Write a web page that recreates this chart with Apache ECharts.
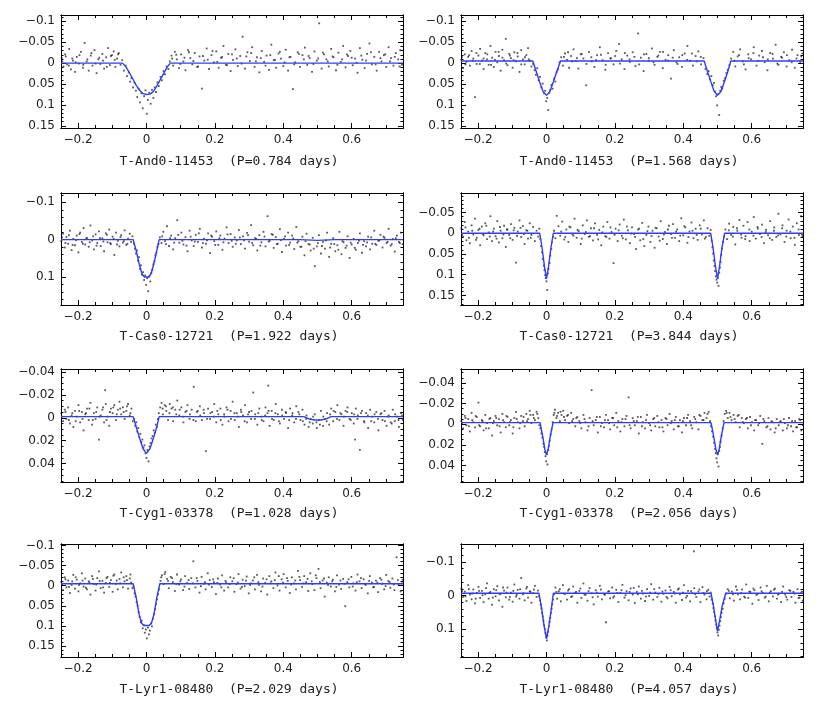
<!DOCTYPE html>
<html>
<head>
<meta charset="utf-8">
<script src="https://cdn.jsdelivr.net/npm/echarts@6/dist/echarts.min.js"></script>
<style>html,body{margin:0;background:#fff}#chart{width:830px;height:724px}</style>
</head>
<body>
<div id="chart"></div>
<script>
// panel captions, left to right, top to bottom
const titles = [
  'T-And0-11453  (P=0.784 days)', 'T-And0-11453  (P=1.568 days)',
  'T-Cas0-12721  (P=1.922 days)', 'T-Cas0-12721  (P=3.844 days)',
  'T-Cyg1-03378  (P=1.028 days)', 'T-Cyg1-03378  (P=2.056 days)',
  'T-Lyr1-08480  (P=2.029 days)', 'T-Lyr1-08480  (P=4.057 days)'
];
const phaseRange = [-0.25, 0.75];
const xMajor = [-0.2, 0, 0.2, 0.4, 0.6];
// magnitude ranges (inverted axes) and tick labels
const yRanges = [[-0.115,0.155],[-0.115,0.155],[-0.125,0.175],[-0.097,0.173],[-0.0425,0.056],[-0.0535,0.056],[-0.104,0.1775],[-0.153,0.182]];
const yMajors = [
  [-0.1,-0.05,0,0.05,0.1,0.15],[-0.1,-0.05,0,0.05,0.1,0.15],
  [-0.1,0,0.1],[-0.05,0,0.05,0.1,0.15],
  [-0.04,-0.02,0,0.02,0.04],[-0.04,-0.02,0,0.02,0.04],
  [-0.1,-0.05,0,0.05,0.1,0.15],[-0.1,0,0.1]
];
const yMinorStep = [0.01,0.01,0.02,0.01,0.005,0.005,0.01,0.02];

// fitted models (phase, delta mag)
const model1 = [[-.25,0],[-.07,0],[-.06,.009],[-.05,.023],[-.04,.038],[-.03,.053],[-.02,.065],[-.01,.073],[0,.075],[.01,.074],[.02,.068],[.03,.055],[.04,.04],[.05,.025],[.06,.01],[.07,0],[.75,0]];
const model2 = [[-.25,-.005],[-.04,-.005],[-.03,.02],[-.02,.045],[-.01,.068],[0,.077],[.01,.068],[.02,.045],[.03,.02],[.041,-.005],[.461,-.005],[.47,.018],[.48,.043],[.49,.067],[.5,.077],[.51,.068],[.52,.045],[.53,.02],[.539,-.005],[.75,-.005]];
const model3 = [[-.25,0],[-.039,0],[-.03,.03],[-.02,.07],[-.013,.092],[-.006,.1],[.006,.1],[.013,.092],[.02,.07],[.03,.03],[.037,0],[.45,0],[.5,.002],[.55,0],[.75,0]];
const model4 = [[-.25,0],[-.02,0],[-.013,.035],[-.006,.08],[0,.11],[.006,.08],[.013,.035],[.02,0],[.48,0],[.487,.035],[.494,.08],[.5,.11],[.506,.08],[.513,.035],[.521,0],[.75,0]];
const model5 = [[-.25,-.001],[-.039,-.001],[-.03,.008],[-.02,.018],[-.01,.027],[0,.031],[.01,.027],[.02,.018],[.03,.008],[.037,-.001],[.46,-.001],[.475,.001],[.49,.002],[.51,.002],[.525,.001],[.54,-.001],[.75,-.001]];
const model6 = [[-.25,-.0015],[-.019,-.0015],[-.012,.01],[-.005,.024],[0,.03],[.005,.024],[.012,.01],[.019,-.0015],[.481,-.0015],[.488,.01],[.495,.024],[.5,.03],[.505,.024],[.512,.01],[.519,-.0015],[.75,-.0015]];
const model7 = [[-.25,-.005],[-.039,-.005],[-.03,.03],[-.022,.07],[-.015,.092],[-.008,.099],[.008,.099],[.015,.092],[.022,.07],[.03,.03],[.039,-.005],[.75,-.005]];
const model8 = [[-.25,-.007],[-.022,-.007],[-.014,.04],[-.007,.09],[0,.128],[.007,.09],[.014,.04],[.02,-.007],[.481,-.007],[.488,.03],[.495,.075],[.5,.105],[.506,.075],[.514,.03],[.524,-.007],[.75,-.007]];

// photometry points (phase, delta mag)
const points1 = [[-.248,-.012],[-.243,.008],[-.238,-.021],[-.232,.003],[-.226,-.034],[-.221,.015],[-.215,-.006],[-.209,.021],[-.204,-.015],[-.198,.001],[-.192,-.027],[-.186,.011],[-.181,-.048],[-.175,-.004],[-.169,.018],[-.163,-.018],[-.158,.006],[-.152,-.031],[-.146,.024],[-.141,-.009],[-.135,.002],[-.129,-.022],[-.124,.013],[-.118,-.014],[-.112,-.036],[-.107,.005],[-.101,-.019],[-.096,-.028],[-.091,.009],[-.086,-.011],[-.081,-.024],[-.076,.004],[-.071,-.007],[-.066,.018],[-.061,.006],[-.057,.031],[-.052,.022],[-.048,.044],[-.044,.036],[-.039,.058],[-.035,.047],[-.031,.066],[-.027,.081],[-.023,.061],[-.019,.094],[-.015,.072],[-.011,.108],[-.007,.079],[-.003,.065],[.001,.121],[.004,.088],[.008,.071],[.012,.097],[.016,.064],[.02,.083],[.024,.058],[.028,.069],[.032,.046],[.036,.055],[.041,.033],[.045,.041],[.05,.019],[.054,.027],[.059,.008],[.064,.014],[.068,-.004],[.073,-.018],[.078,.006],[.083,-.027],[.089,-.009],[.095,.012],[.101,-.021],[.108,-.004],[.114,.017],[.121,-.031],[.128,-.012],[.134,.003],[.141,-.024],[.148,.009],[.155,-.016],[.162,.061],[.169,-.006],[.176,-.035],[.183,.014],[.19,-.019],[.197,-.002],[.204,-.028],[.211,.011],[.218,-.013],[.225,-.041],[.232,.004],[.239,-.022],[.246,.019],[.253,-.008],[.26,-.033],[.267,.007],[.274,-.017],[.281,-.063],[.288,.013],[.295,-.026],[.302,-.005],[.309,-.038],[.316,.009],[.323,-.014],[.33,.022],[.337,-.029],[.344,-.003],[.351,-.018],[.358,.016],[.365,-.044],[.372,-.007],[.379,.011],[.386,-.023],[.393,-.011],[.4,.007],[.407,-.032],[.414,.018],[.421,-.015],[.428,.062],[.435,-.002],[.442,-.026],[.449,.009],[.456,-.019],[.463,-.037],[.47,.004],[.477,-.012],[.484,.021],[.491,-.028],[.498,-.006],[.505,-.095],[.512,.013],[.519,-.021],[.526,-.009],[.533,.008],[.54,-.034],[.547,-.014],[.554,.017],[.561,-.025],[.568,-.003],[.575,-.041],[.582,.01],[.589,-.017],[.596,-.029],[.603,.005],[.61,-.011],[.617,.023],[.624,-.036],[.631,-.008],[.638,.012],[.645,-.022],[.652,-.047],[.659,.003],[.666,-.015],[.673,.018],[.68,-.027],[.687,-.004],[.694,-.019],[.701,.009],[.708,-.038],[.715,-.012],[.722,.006],[.729,-.024],[.736,-.009],[.742,-.031],[.747,.004]];
const points1b = [[-.246,-.004],[-.236,-.016],[-.227,.006],[-.217,-.011],[-.207,-.002],[-.196,-.019],[-.185,.004],[-.173,-.009],[-.161,-.024],[-.149,.001],[-.138,-.013],[-.127,-.006],[-.116,.009],[-.104,-.017],[-.093,-.008],[-.083,-.021],[.075,-.011],[.087,-.02],[.099,.002],[.111,-.013],[.124,-.026],[.137,-.005],[.151,.008],[.165,-.017],[.179,-.008],[.193,-.029],[.207,-.003],[.221,-.014],[.236,.005],[.25,-.021],[.264,-.011],[.278,.001],[.292,-.016],[.306,-.024],[.32,-.004],[.334,-.012],[.348,.006],[.362,-.019],[.376,-.008],[.39,-.027],[.404,-.002],[.418,-.014],[.432,.003],[.446,-.022],[.46,-.009],[.474,-.017],[.488,.002],[.502,-.011],[.516,-.025],[.53,-.004],[.544,-.016],[.558,.004],[.572,-.009],[.586,-.021],[.6,-.013],[.614,-.001],[.628,-.018],[.642,-.006],[.656,-.026],[.67,.003],[.684,-.012],[.698,-.021],[.712,-.004],[.726,-.015],[.74,.008]];
const points2 = [[-.249,-.008],[-.244,.012],[-.239,-.021],[-.234,-.003],[-.229,-.015],[-.224,.006],[-.219,-.029],[-.214,-.011],[-.209,.081],[-.204,.002],[-.199,-.018],[-.194,-.034],[-.189,-.006],[-.184,.014],[-.179,-.024],[-.174,-.009],[-.169,.004],[-.164,-.041],[-.159,-.013],[-.154,.009],[-.149,-.027],[-.144,-.002],[-.139,-.017],[-.134,.018],[-.129,-.032],[-.124,-.007],[-.119,-.058],[-.114,.005],[-.109,-.022],[-.104,-.012],[-.099,.011],[-.094,-.026],[-.089,-.004],[-.084,-.016],[-.079,.021],[-.074,-.031],[-.069,-.009],[-.064,.003],[-.059,-.019],[-.054,-.036],[-.049,-.006],[-.044,.008],[-.039,.002],[-.035,.017],[-.031,.028],[-.027,.012],[-.023,.041],[-.019,.033],[-.015,.058],[-.011,.049],[-.007,.072],[-.004,.066],[-.001,.091],[.002,.083],[.005,.112],[.008,.071],[.011,.064],[.014,.052],[.018,.061],[.022,.037],[.026,.044],[.03,.021],[.034,.015],[.038,-.002],[.043,-.014],[.048,.006],[.054,-.023],[.06,-.008],[.066,.011],[.072,-.017],[.079,-.033],[.086,-.005],[.093,.013],[.1,-.021],[.108,-.011],[.116,.053],[.124,-.027],[.132,-.004],[.14,.009],[.148,-.019],[.156,-.038],[.164,-.007],[.172,.016],[.18,-.024],[.188,-.012],[.196,.003],[.204,-.029],[.212,-.046],[.22,-.009],[.228,.014],[.236,-.018],[.244,-.003],[.252,-.026],[.26,.007],[.268,-.071],[.276,-.013],[.284,.019],[.292,-.022],[.3,-.006],[.308,-.035],[.316,.004],[.324,-.015],[.332,-.027],[.34,.012],[.348,-.008],[.356,-.019],[.364,.037],[.372,-.031],[.38,-.002],[.388,-.014],[.396,.009],[.404,-.023],[.412,-.041],[.42,-.006],[.428,.006],[.436,-.017],[.444,-.028],[.452,.003],[.459,-.012],[.465,.014],[.47,.026],[.474,.019],[.478,.039],[.482,.031],[.486,.052],[.49,.047],[.493,.068],[.496,.079],[.499,.101],[.502,.074],[.505,.124],[.508,.066],[.511,.057],[.514,.061],[.518,.042],[.522,.036],[.526,.024],[.53,.016],[.535,.004],[.54,-.011],[.546,-.027],[.552,.008],[.559,-.016],[.566,-.033],[.574,-.004],[.582,.015],[.59,-.021],[.598,-.009],[.606,-.038],[.614,.006],[.622,-.018],[.63,-.029],[.638,-.002],[.646,.017],[.654,-.024],[.662,-.011],[.67,-.044],[.678,.004],[.686,-.015],[.694,-.026],[.702,.008],[.71,-.007],[.718,-.032],[.726,.011],[.734,-.019],[.742,-.003],[.748,-.023]];
const points2b = [[-.247,-.014],[-.237,.003],[-.226,-.019],[-.216,-.006],[-.205,-.024],[-.195,.002],[-.184,-.011],[-.173,-.021],[-.162,.004],[-.151,-.008],[-.14,-.027],[-.129,-.013],[-.118,.001],[-.107,-.018],[-.096,-.007],[-.085,-.024],[-.074,.003],[-.063,-.014],[-.052,-.009],[.051,-.015],[.063,-.026],[.075,-.004],[.089,-.012],[.103,-.022],[.117,.002],[.131,-.014],[.145,-.007],[.159,-.02],[.173,.004],[.187,-.011],[.201,-.017],[.215,.001],[.229,-.024],[.243,-.009],[.257,-.015],[.271,.003],[.285,-.021],[.299,-.012],[.313,-.002],[.327,-.018],[.341,-.027],[.355,-.006],[.369,-.013],[.383,.002],[.397,-.019],[.411,-.008],[.425,-.023],[.439,-.004],[.451,-.015],[.549,-.006],[.563,-.019],[.577,.003],[.591,-.012],[.605,-.024],[.619,-.005],[.633,-.014],[.647,-.009],[.661,-.022],[.675,.001],[.689,-.013],[.703,-.019],[.717,-.002],[.731,-.011],[.745,-.016]];
const points3 = [[-.249,.004],[-.244,-.016],[-.239,.021],[-.234,-.007],[-.229,.011],[-.224,-.024],[-.219,.028],[-.214,-.002],[-.209,.015],[-.204,-.011],[-.199,.034],[-.194,-.019],[-.189,.006],[-.184,-.031],[-.179,.013],[-.174,-.005],[-.169,.019],[-.164,-.038],[-.159,.002],[-.154,.026],[-.149,-.014],[-.144,.009],[-.139,-.022],[-.134,.017],[-.129,-.004],[-.124,.031],[-.119,-.017],[-.114,.007],[-.109,-.027],[-.104,.012],[-.099,-.008],[-.094,.041],[-.089,-.019],[-.084,.003],[-.079,.018],[-.074,-.012],[-.069,.008],[-.064,-.025],[-.059,.014],[-.054,-.003],[-.049,-.016],[-.045,.006],[-.041,-.009],[-.037,.011],[-.034,.024],[-.031,.037],[-.028,.029],[-.025,.056],[-.022,.047],[-.019,.078],[-.016,.069],[-.013,.094],[-.01,.087],[-.007,.108],[-.004,.096],[-.001,.121],[.002,.103],[.005,.138],[.008,.099],[.011,.112],[.014,.089],[.017,.081],[.02,.066],[.023,.058],[.026,.042],[.029,.035],[.032,.019],[.035,.012],[.039,-.006],[.044,.009],[.049,-.021],[.054,.004],[.06,-.036],[.066,.017],[.072,-.011],[.078,.026],[.084,-.004],[.09,-.052],[.096,.008],[.102,-.019],[.108,.013],[.114,-.007],[.12,.031],[.126,-.024],[.132,.002],[.138,.017],[.144,-.013],[.15,.006],[.156,-.029],[.162,.021],[.168,-.003],[.174,.011],[.18,-.017],[.186,.036],[.192,-.008],[.198,.004],[.204,-.022],[.21,.014],[.216,-.011],[.222,.027],[.228,-.003],[.234,-.033],[.24,.009],[.246,-.015],[.252,.019],[.258,-.006],[.264,.002],[.27,-.026],[.276,.012],[.282,-.009],[.288,.024],[.294,-.018],[.3,.005],[.306,-.039],[.312,.015],[.318,-.004],[.324,.029],[.33,-.012],[.336,.007],[.342,-.021],[.348,.018],[.354,-.063],[.36,.003],[.366,-.015],[.372,.022],[.378,-.007],[.384,.011],[.39,-.028],[.396,.033],[.402,-.002],[.408,.016],[.414,-.019],[.42,.008],[.426,-.011],[.432,.025],[.438,-.034],[.444,.004],[.45,.019],[.456,-.008],[.462,.042],[.468,-.016],[.474,.012],[.48,.029],[.486,-.005],[.492,.071],[.498,.018],[.504,-.012],[.51,.037],[.516,.006],[.522,.024],[.528,-.019],[.534,.046],[.54,.011],[.546,-.004],[.552,.031],[.558,.015],[.564,-.021],[.57,.039],[.576,.007],[.582,.022],[.588,-.009],[.594,.049],[.6,.013],[.606,-.002],[.612,.027],[.618,.009],[.624,-.017],[.63,.035],[.636,.004],[.642,.018],[.648,-.008],[.654,.026],[.66,.011],[.666,-.024],[.672,.014],[.678,.003],[.684,-.013],[.69,.021],[.696,-.005],[.702,.009],[.708,-.029],[.714,.016],[.72,-.002],[.726,.032],[.732,-.011],[.738,.006],[.744,-.019],[.749,.012]];
const points3b = [[-.247,-.006],[-.237,.009],[-.227,-.012],[-.216,.014],[-.206,.001],[-.196,-.015],[-.186,.011],[-.176,-.003],[-.166,.007],[-.156,-.009],[-.146,.016],[-.136,-.004],[-.126,.005],[-.116,-.013],[-.106,.009],[-.096,-.002],[-.086,.013],[-.076,-.007],[-.066,.004],[-.056,.011],[.046,-.009],[.057,.012],[.069,-.004],[.081,.008],[.093,-.013],[.105,.003],[.117,.016],[.129,-.008],[.141,.005],[.153,-.017],[.165,.009],[.177,.002],[.189,-.011],[.201,.014],[.213,-.004],[.225,.007],[.237,-.014],[.249,.003],[.261,.011],[.273,-.006],[.285,.002],[.297,-.012],[.309,.009],[.321,-.002],[.333,.016],[.345,-.008],[.357,.005],[.369,-.013],[.381,.012],[.393,.001],[.405,-.009],[.417,.014],[.429,-.003],[.441,.008],[.453,.019],[.465,.004],[.477,.013],[.489,.024],[.501,.009],[.513,.017],[.525,.002],[.537,.021],[.549,.012],[.561,.027],[.573,.004],[.585,.016],[.597,.008],[.609,.022],[.621,.003],[.633,.014],[.645,.007],[.657,-.006],[.669,.011],[.681,.002],[.693,-.008],[.705,.006],[.717,.012],[.729,-.004],[.741,.009]];
const points4 = [[-.249,-.012],[-.244,.008],[-.239,-.027],[-.234,.017],[-.229,-.004],[-.224,.024],[-.219,-.019],[-.214,.003],[-.209,-.035],[-.204,.011],[-.199,-.008],[-.194,.029],[-.189,-.016],[-.184,.005],[-.179,-.024],[-.174,.014],[-.169,-.002],[-.164,-.041],[-.159,.019],[-.154,-.011],[-.149,.007],[-.144,-.029],[-.139,.022],[-.134,-.006],[-.129,.012],[-.124,-.018],[-.119,.033],[-.114,-.009],[-.109,.004],[-.104,-.022],[-.099,.016],[-.094,-.013],[-.089,.071],[-.084,-.004],[-.079,-.031],[-.074,.009],[-.069,-.017],[-.064,.026],[-.059,-.007],[-.054,.013],[-.049,-.024],[-.044,.004],[-.039,-.015],[-.034,.019],[-.029,-.006],[-.024,.008],[-.021,-.011],[-.018,.014],[-.016,.031],[-.013,.046],[-.011,.062],[-.008,.078],[-.006,.089],[-.004,.101],[-.002,.108],[0,.116],[.002,.137],[.004,.097],[.006,.086],[.009,.072],[.011,.054],[.014,.038],[.016,.022],[.019,.009],[.022,-.006],[.026,.012],[.03,-.042],[.035,-.017],[.04,.006],[.046,-.028],[.052,.015],[.058,-.009],[.064,.021],[.07,-.014],[.076,.003],[.082,-.035],[.088,.011],[.094,-.005],[.1,.026],[.106,-.019],[.112,.002],[.118,-.031],[.124,.009],[.13,-.012],[.136,.017],[.142,-.024],[.148,.004],[.154,-.008],[.16,.029],[.166,-.016],[.172,.007],[.178,-.027],[.184,.013],[.19,-.003],[.196,.072],[.202,-.011],[.208,.019],[.214,-.021],[.22,.006],[.226,-.033],[.232,.015],[.238,-.007],[.244,.024],[.25,-.014],[.256,.002],[.262,.038],[.268,-.009],[.274,.017],[.28,-.025],[.286,.031],[.292,.004],[.298,-.016],[.304,.021],[.31,-.006],[.316,.035],[.322,-.012],[.328,.008],[.334,-.029],[.34,.014],[.346,-.003],[.352,.026],[.358,-.018],[.364,.002],[.37,-.022],[.376,.011],[.382,-.009],[.388,.019],[.394,-.036],[.4,.005],[.406,-.014],[.412,.023],[.418,-.004],[.424,-.026],[.43,.012],[.436,-.011],[.442,.016],[.448,-.019],[.454,.003],[.46,-.031],[.466,.009],[.471,-.012],[.476,.006],[.48,-.008],[.483,.018],[.485,.034],[.487,.049],[.489,.066],[.491,.079],[.493,.091],[.495,.104],[.497,.112],[.499,.119],[.501,.108],[.503,.127],[.505,.095],[.507,.083],[.509,.069],[.511,.052],[.513,.037],[.516,.021],[.519,.008],[.523,-.009],[.528,.014],[.534,-.023],[.54,.004],[.546,-.015],[.552,.027],[.558,-.006],[.564,-.032],[.57,.011],[.576,-.018],[.582,.007],[.588,-.027],[.594,.019],[.6,-.004],[.606,-.039],[.612,.013],[.618,-.011],[.624,.002],[.63,-.021],[.636,.024],[.642,-.008],[.648,.005],[.654,-.029],[.66,.016],[.666,-.014],[.672,.009],[.678,-.047],[.684,.003],[.69,-.019],[.696,.021],[.702,-.006],[.708,-.033],[.714,.012],[.72,-.016],[.726,.028],[.732,-.024],[.738,.004],[.744,-.041],[.749,.007]];
const points4b = [[-.247,.004],[-.237,-.014],[-.227,.011],[-.217,-.006],[-.206,.016],[-.196,-.011],[-.186,.002],[-.176,-.018],[-.166,.008],[-.156,-.004],[-.146,.013],[-.136,-.015],[-.126,.003],[-.116,-.009],[-.106,.012],[-.096,-.007],[-.086,.006],[-.076,-.013],[-.066,.002],[-.056,-.006],[-.046,.011],[.043,-.004],[.055,.009],[.067,-.016],[.079,.006],[.091,-.008],[.103,.013],[.115,-.003],[.127,.007],[.139,-.012],[.151,.015],[.163,-.002],[.175,.009],[.187,-.014],[.199,.004],[.211,-.007],[.223,.012],[.235,-.016],[.247,.001],[.259,.009],[.271,-.011],[.283,.014],[.295,-.005],[.307,.007],[.319,-.013],[.331,.018],[.343,.003],[.355,-.009],[.367,.011],[.379,-.004],[.391,.006],[.403,-.017],[.415,.009],[.427,-.006],[.439,.004],[.451,-.011],[.463,.013],[.533,-.007],[.545,.008],[.557,-.012],[.569,.003],[.581,.014],[.593,-.009],[.605,.006],[.617,-.015],[.629,.009],[.641,-.003],[.653,.012],[.665,-.006],[.677,.005],[.689,-.012],[.701,.008],[.713,-.004],[.725,.011],[.737,-.009],[.747,.003]];
const points5 = [[-.249,-.004],[-.244,.003],[-.239,-.007],[-.234,.001],[-.229,-.009],[-.224,.005],[-.219,-.002],[-.214,.008],[-.209,-.006],[-.204,-.001],[-.199,-.011],[-.194,.004],[-.189,-.005],[-.184,.011],[-.179,-.003],[-.174,-.008],[-.169,.002],[-.164,-.013],[-.159,.006],[-.154,-.004],[-.149,.001],[-.144,-.009],[-.139,.019],[-.134,-.002],[-.129,-.007],[-.124,.004],[-.121,-.024],[-.119,-.012],[-.114,-.001],[-.109,.007],[-.104,-.008],[-.099,-.004],[-.094,-.011],[-.089,.002],[-.084,-.007],[-.079,-.014],[-.074,-.003],[-.069,-.009],[-.064,.001],[-.059,-.006],[-.054,-.012],[-.049,-.002],[-.044,-.008],[-.04,.003],[-.036,.001],[-.033,.007],[-.03,.004],[-.027,.012],[-.024,.009],[-.021,.017],[-.018,.014],[-.015,.021],[-.012,.019],[-.009,.026],[-.006,.024],[-.003,.031],[0,.035],[.003,.028],[.006,.038],[.009,.025],[.012,.022],[.015,.018],[.018,.016],[.021,.011],[.024,.013],[.027,.006],[.03,.008],[.033,.001],[.036,-.004],[.04,-.009],[.044,-.013],[.048,-.003],[.053,-.011],[.058,-.006],[.063,.002],[.068,-.012],[.073,-.008],[.078,.003],[.084,-.007],[.09,-.015],[.096,-.002],[.102,-.009],[.108,.004],[.114,-.005],[.12,-.011],[.126,.001],[.132,-.007],[.138,-.027],[.144,.003],[.15,-.006],[.156,-.01],[.162,.002],[.168,-.004],[.174,.029],[.18,-.008],[.186,.001],[.192,-.005],[.198,-.012],[.204,.004],[.21,-.003],[.216,-.008],[.222,.006],[.228,-.001],[.234,-.009],[.24,.003],[.246,-.006],[.252,-.014],[.258,.002],[.264,-.004],[.27,.008],[.276,-.007],[.282,-.002],[.288,-.011],[.294,.004],[.3,-.005],[.306,.001],[.312,-.022],[.318,-.003],[.324,.006],[.33,-.008],[.336,-.001],[.342,.003],[.348,-.009],[.354,-.004],[.356,-.028],[.36,.007],[.366,-.006],[.372,.002],[.378,-.012],[.384,-.003],[.39,.005],[.396,-.007],[.402,.001],[.408,-.004],[.414,.009],[.42,-.008],[.426,-.002],[.432,.004],[.438,-.01],[.444,-.005],[.45,.002],[.456,-.007],[.462,.006],[.468,-.002],[.474,.008],[.48,.001],[.486,.005],[.492,-.003],[.498,.009],[.504,.002],[.51,-.006],[.516,.007],[.522,.001],[.528,-.004],[.534,.006],[.54,-.008],[.546,.003],[.552,-.005],[.558,-.011],[.564,.002],[.57,-.003],[.576,.007],[.582,-.006],[.588,-.009],[.594,.001],[.6,-.004],[.606,.005],[.61,.019],[.612,-.008],[.618,-.002],[.624,.028],[.63,-.006],[.636,.003],[.642,-.004],[.648,.009],[.654,-.007],[.66,-.001],[.666,.004],[.672,-.005],[.678,.011],[.684,-.003],[.69,.002],[.696,-.006],[.702,.007],[.708,-.002],[.714,.004],[.72,-.007],[.726,.003],[.732,-.001],[.738,.008],[.744,-.004],[.749,.002]];
const points5b = [[-.247,-.001],[-.237,-.005],[-.227,.002],[-.217,-.004],[-.207,.003],[-.197,-.006],[-.187,.001],[-.177,-.004],[-.167,-.008],[-.157,.002],[-.147,-.005],[-.137,-.001],[-.127,-.009],[-.117,.002],[-.107,-.005],[-.097,-.009],[-.087,-.003],[-.077,-.008],[-.067,-.005],[-.057,-.01],[-.047,-.004],[.047,-.008],[.057,-.01],[.067,-.004],[.077,-.009],[.087,-.003],[.097,-.007],[.107,-.001],[.117,-.006],[.127,-.003],[.137,.002],[.147,-.005],[.157,-.002],[.167,-.007],[.177,.001],[.187,-.004],[.197,-.001],[.207,-.006],[.217,.002],[.227,-.003],[.237,-.007],[.247,.001],[.257,-.004],[.267,-.001],[.277,-.005],[.287,.003],[.297,-.003],[.307,-.006],[.317,.001],[.327,-.004],[.337,.002],[.347,-.002],[.357,-.006],[.367,.001],[.377,-.004],[.387,.003],[.397,-.002],[.407,-.005],[.417,.002],[.427,-.004],[.437,.001],[.447,-.003],[.457,.003],[.467,.001],[.477,.004],[.487,-.001],[.497,.004],[.507,.006],[.517,-.001],[.527,.003],[.537,-.003],[.547,-.006],[.557,.001],[.567,-.004],[.577,-.001],[.587,-.005],[.597,.002],[.607,-.003],[.617,.001],[.627,-.004],[.637,.004],[.647,-.002],[.657,.003],[.667,-.003],[.677,.001],[.687,-.004],[.697,.003],[.707,-.001],[.717,.005],[.727,-.003],[.737,.002],[.747,-.002]];
const points6 = [[-.249,-.003],[-.244,.004],[-.239,-.008],[-.234,.001],[-.229,-.005],[-.224,.007],[-.219,-.011],[-.214,-.002],[-.209,.003],[-.204,-.007],[-.199,-.021],[-.194,.002],[-.189,-.004],[-.184,.006],[-.179,-.009],[-.174,-.001],[-.169,.004],[-.164,-.006],[-.159,.011],[-.154,-.003],[-.149,-.008],[-.144,.001],[-.139,-.005],[-.134,.008],[-.129,-.01],[-.124,-.002],[-.119,.003],[-.114,-.007],[-.109,.001],[-.104,-.004],[-.099,.009],[-.094,-.006],[-.089,-.012],[-.084,-.002],[-.079,.004],[-.074,-.008],[-.069,-.003],[-.064,.002],[-.059,-.01],[-.054,-.005],[-.049,-.013],[-.044,-.001],[-.039,-.009],[-.034,-.004],[-.029,-.012],[-.024,-.006],[-.021,.001],[-.018,.004],[-.015,.009],[-.012,.013],[-.009,.019],[-.007,.022],[-.005,.027],[-.003,.031],[-.001,.036],[.001,.029],[.003,.039],[.005,.025],[.007,.021],[.009,.016],[.012,.01],[.015,.005],[.018,-.002],[.021,-.009],[.025,-.014],[.029,-.006],[.034,-.011],[.039,-.003],[.044,-.009],[.049,-.013],[.054,-.004],[.06,-.008],[.066,-.001],[.072,-.011],[.078,-.005],[.084,.002],[.09,-.007],[.096,-.003],[.102,.004],[.108,-.009],[.114,-.002],[.12,.006],[.126,-.006],[.132,-.033],[.138,.001],[.144,-.004],[.15,.008],[.156,-.007],[.162,-.001],[.168,.003],[.174,-.009],[.18,-.004],[.186,.005],[.192,-.006],[.198,.001],[.204,-.011],[.21,-.003],[.216,.007],[.222,-.005],[.228,.002],[.234,-.008],[.24,-.026],[.246,.004],[.252,-.006],[.258,.001],[.264,-.003],[.27,.009],[.276,-.007],[.282,-.002],[.288,.004],[.294,-.009],[.3,-.001],[.306,.006],[.312,-.005],[.318,.002],[.324,-.008],[.33,.003],[.336,-.004],[.342,.007],[.348,-.006],[.354,.001],[.36,-.01],[.366,-.003],[.372,.005],[.378,-.007],[.384,.002],[.39,-.004],[.396,.008],[.402,-.006],[.408,.001],[.414,-.009],[.42,-.003],[.426,.004],[.432,-.007],[.438,-.002],[.444,.005],[.45,-.008],[.456,-.004],[.462,-.011],[.468,-.006],[.474,-.012],[.478,-.003],[.481,.002],[.484,.007],[.487,.012],[.49,.018],[.493,.024],[.495,.028],[.497,.033],[.499,.037],[.501,.029],[.503,.041],[.505,.026],[.507,.022],[.509,.017],[.512,.011],[.515,.004],[.518,-.003],[.521,-.01],[.525,-.013],[.53,-.006],[.535,-.011],[.541,-.004],[.547,-.009],[.553,-.002],[.559,-.008],[.565,.003],[.571,-.006],[.577,-.001],[.583,-.005],[.589,.004],[.595,-.007],[.601,-.002],[.607,.006],[.613,-.004],[.619,.001],[.625,-.008],[.631,.019],[.637,-.003],[.643,.003],[.649,-.006],[.655,.005],[.661,-.002],[.667,.008],[.673,-.005],[.679,.001],[.685,-.003],[.691,.006],[.697,-.001],[.703,.004],[.709,-.006],[.715,.002],[.721,.007],[.727,-.003],[.733,.003],[.739,-.005],[.745,.006],[.749,.001]];
const points6b = [[-.247,-.001],[-.237,-.006],[-.227,.002],[-.217,-.004],[-.207,-.008],[-.197,.001],[-.187,-.003],[-.177,.004],[-.167,-.005],[-.157,-.001],[-.147,-.006],[-.137,.002],[-.127,-.004],[-.117,-.008],[-.107,-.002],[-.097,.003],[-.087,-.005],[-.077,-.001],[-.067,-.007],[-.057,-.003],[-.047,-.009],[-.037,-.006],[-.027,-.01],[.023,-.011],[.031,-.008],[.041,-.012],[.051,-.007],[.063,-.009],[.075,-.003],[.087,-.006],[.099,-.001],[.111,-.005],[.123,.002],[.135,-.003],[.147,-.007],[.159,.002],[.171,-.004],[.183,-.001],[.195,-.006],[.207,.003],[.219,-.002],[.231,-.005],[.243,.001],[.255,-.003],[.267,-.007],[.279,.002],[.291,-.004],[.303,.001],[.315,-.006],[.327,-.002],[.339,.003],[.351,-.005],[.363,-.001],[.375,-.004],[.387,.002],[.399,-.003],[.411,-.006],[.423,.001],[.435,-.005],[.447,-.009],[.459,-.004],[.471,-.01],[.527,-.011],[.538,-.007],[.55,-.005],[.562,-.009],[.574,-.002],[.586,-.006],[.598,.001],[.61,-.004],[.622,-.001],[.634,-.005],[.646,.002],[.658,-.003],[.67,.004],[.682,-.002],[.694,-.005],[.706,.001],[.718,-.003],[.73,.003],[.742,-.004]];
const points7 = [[-.249,-.009],[-.244,.011],[-.239,-.021],[-.234,.004],[-.229,-.013],[-.224,.018],[-.219,-.002],[-.214,-.027],[-.209,.007],[-.204,-.015],[-.199,.014],[-.194,-.006],[-.189,-.031],[-.184,.002],[-.179,-.018],[-.174,.009],[-.169,-.011],[-.164,.022],[-.159,-.024],[-.154,-.004],[-.149,.012],[-.144,-.019],[-.139,-.036],[-.134,.006],[-.129,-.012],[-.124,.017],[-.119,-.007],[-.114,-.022],[-.109,.003],[-.104,-.014],[-.099,.015],[-.094,-.028],[-.089,-.005],[-.084,.009],[-.079,-.017],[-.074,-.033],[-.069,.004],[-.064,-.011],[-.059,-.024],[-.054,.007],[-.049,-.018],[-.045,-.008],[-.041,.006],[-.038,.002],[-.035,.019],[-.032,.027],[-.029,.041],[-.026,.049],[-.023,.066],[-.02,.078],[-.017,.091],[-.014,.087],[-.011,.106],[-.008,.098],[-.005,.117],[-.002,.109],[.001,.131],[.004,.104],[.007,.121],[.01,.112],[.013,.094],[.016,.101],[.019,.082],[.022,.071],[.025,.058],[.028,.046],[.031,.034],[.034,.021],[.037,.009],[.041,-.012],[.045,-.026],[.05,-.004],[.055,-.034],[.06,-.017],[.065,.006],[.071,-.022],[.077,-.009],[.083,.013],[.089,-.028],[.095,-.003],[.101,-.016],[.107,.011],[.113,-.024],[.119,-.007],[.125,.008],[.131,-.019],[.137,-.061],[.143,.004],[.149,-.012],[.155,.017],[.161,-.022],[.167,-.005],[.173,.009],[.179,-.031],[.185,-.014],[.191,.003],[.197,-.009],[.203,.021],[.209,-.018],[.215,-.003],[.221,-.026],[.227,.012],[.233,-.008],[.239,.004],[.245,-.021],[.251,-.011],[.257,.015],[.263,-.004],[.269,-.029],[.275,.007],[.281,-.015],[.287,.001],[.293,-.023],[.299,.019],[.305,-.006],[.311,-.013],[.317,.009],[.323,-.027],[.329,-.002],[.335,.014],[.341,-.018],[.347,-.007],[.353,.022],[.359,-.024],[.365,-.011],[.371,.006],[.377,-.033],[.383,-.001],[.389,.012],[.395,-.016],[.401,-.029],[.407,.004],[.413,-.012],[.419,.018],[.425,-.021],[.431,-.006],[.437,.009],[.443,-.037],[.449,-.014],[.455,.003],[.461,-.024],[.467,-.009],[.473,.013],[.479,-.031],[.485,-.004],[.491,.011],[.497,-.019],[.503,-.042],[.509,.006],[.515,-.013],[.521,.027],[.527,-.008],[.533,-.021],[.539,.002],[.545,-.015],[.551,.014],[.557,-.026],[.563,-.003],[.569,.008],[.575,-.017],[.581,.051],[.587,-.009],[.593,.004],[.599,-.022],[.605,-.006],[.611,.012],[.617,-.028],[.623,-.011],[.629,.006],[.635,-.016],[.641,-.002],[.647,.019],[.653,-.024],[.659,-.008],[.665,.003],[.671,-.013],[.677,.016],[.683,-.019],[.689,-.005],[.695,.009],[.701,-.027],[.707,-.012],[.713,.005],[.719,-.018],[.725,.011],[.731,-.071],[.737,-.004],[.743,.014],[.749,-.015]];
const points7b = [[-.247,-.004],[-.237,-.016],[-.227,.003],[-.217,-.011],[-.207,-.021],[-.197,-.002],[-.187,-.013],[-.177,.005],[-.167,-.008],[-.157,-.017],[-.147,-.003],[-.137,-.012],[-.127,.004],[-.117,-.019],[-.107,-.007],[-.097,-.025],[-.087,-.013],[-.077,-.006],[-.067,-.021],[-.057,-.014],[-.047,-.028],[.043,-.021],[.053,-.029],[.063,-.012],[.075,-.019],[.087,-.004],[.099,-.011],[.111,.002],[.123,-.014],[.135,-.006],[.147,-.019],[.159,.001],[.171,-.009],[.183,-.003],[.195,-.016],[.207,-.007],[.219,.004],[.231,-.012],[.243,-.004],[.255,-.019],[.267,-.008],[.279,.003],[.291,-.013],[.303,-.002],[.315,-.021],[.327,-.009],[.339,.002],[.351,-.016],[.363,-.006],[.375,-.014],[.387,-.024],[.399,-.008],[.411,-.019],[.423,-.003],[.435,-.013],[.447,-.022],[.459,-.006],[.471,-.017],[.483,-.011],[.495,-.026],[.507,-.009],[.519,-.018],[.531,-.002],[.543,-.011],[.555,.003],[.567,-.013],[.579,-.005],[.591,-.016],[.603,.002],[.615,-.009],[.627,-.019],[.639,-.004],[.651,-.012],[.663,.004],[.675,-.008],[.687,-.015],[.699,.001],[.711,-.009],[.723,-.003],[.735,-.014],[.747,-.006]];
const points8 = [[-.249,-.021],[-.244,.004],[-.239,-.012],[-.234,.016],[-.229,-.031],[-.224,-.003],[-.219,.011],[-.214,-.018],[-.209,.023],[-.204,-.008],[-.199,-.026],[-.194,.007],[-.189,-.014],[-.184,.019],[-.179,-.004],[-.174,-.036],[-.169,.009],[-.164,-.011],[-.159,.027],[-.154,-.019],[-.149,.002],[-.144,-.028],[-.139,.014],[-.134,-.006],[-.129,.033],[-.124,-.015],[-.119,.005],[-.114,-.024],[-.109,.012],[-.104,-.009],[-.099,.018],[-.094,-.033],[-.089,.003],[-.084,-.017],[-.079,.009],[-.074,-.052],[-.069,-.004],[-.064,.014],[-.059,-.021],[-.054,.006],[-.049,-.013],[-.044,.021],[-.039,-.007],[-.034,-.029],[-.029,.004],[-.025,-.015],[-.022,.002],[-.019,.014],[-.017,.027],[-.015,.038],[-.013,.051],[-.011,.062],[-.009,.074],[-.007,.088],[-.005,.099],[-.003,.111],[-.001,.124],[.001,.133],[.003,.119],[.005,.107],[.007,.091],[.009,.078],[.011,.066],[.013,.052],[.015,.039],[.017,.026],[.019,.012],[.022,-.004],[.026,-.024],[.031,.009],[.036,-.013],[.042,.017],[.048,-.031],[.054,-.005],[.06,.012],[.066,-.019],[.072,.004],[.078,-.027],[.084,-.009],[.09,.021],[.096,-.014],[.102,.007],[.108,-.036],[.114,-.002],[.12,.015],[.126,-.022],[.132,-.007],[.138,.026],[.144,-.016],[.15,.003],[.156,-.029],[.162,.011],[.168,-.005],[.174,.079],[.18,-.012],[.186,.008],[.192,-.024],[.198,.002],[.204,-.017],[.21,.019],[.216,-.008],[.222,-.032],[.228,.006],[.234,-.013],[.24,.014],[.246,-.021],[.252,-.003],[.258,.022],[.264,-.011],[.27,-.027],[.276,.009],[.282,-.006],[.288,.016],[.294,-.019],[.3,.001],[.306,-.034],[.312,.012],[.318,-.009],[.324,.004],[.33,-.023],[.336,.018],[.342,-.005],[.348,-.015],[.354,.008],[.36,-.026],[.366,.002],[.372,-.011],[.378,.021],[.384,-.018],[.39,-.004],[.396,.013],[.402,-.031],[.408,.006],[.414,-.014],[.42,.017],[.426,-.007],[.431,-.131],[.432,-.022],[.438,.004],[.444,-.012],[.45,.019],[.456,-.025],[.462,-.003],[.468,.011],[.473,-.017],[.477,.003],[.48,-.009],[.483,.012],[.486,.024],[.488,.037],[.49,.049],[.492,.061],[.494,.074],[.496,.086],[.498,.097],[.5,.109],[.502,.118],[.504,.101],[.506,.089],[.508,.076],[.51,.064],[.512,.051],[.515,.039],[.518,.023],[.521,.009],[.525,-.006],[.53,-.019],[.536,.008],[.542,-.012],[.548,.015],[.554,-.027],[.56,-.004],[.566,.011],[.572,-.018],[.578,.003],[.584,-.033],[.59,.007],[.596,-.011],[.602,.024],[.608,-.016],[.614,-.002],[.62,.013],[.626,-.024],[.632,-.008],[.638,.006],[.644,-.029],[.65,.017],[.656,-.013],[.662,.002],[.668,-.021],[.674,.009],[.68,-.006],[.686,.019],[.692,-.027],[.698,-.003],[.704,.012],[.71,-.016],[.716,.004],[.722,-.011],[.728,.021],[.734,-.019],[.74,.006],[.745,-.009],[.749,.015]];
const points8b = [[-.247,-.013],[-.237,.002],[-.227,-.019],[-.217,-.006],[-.207,.009],[-.197,-.014],[-.187,-.001],[-.177,-.022],[-.167,-.008],[-.157,.006],[-.147,-.016],[-.137,-.004],[-.127,-.024],[-.117,-.009],[-.107,.004],[-.097,-.014],[-.087,-.002],[-.077,-.019],[-.067,-.007],[-.057,-.026],[-.047,-.011],[-.037,-.018],[.029,-.011],[.039,-.019],[.051,-.006],[.063,-.015],[.075,.002],[.087,-.011],[.099,-.021],[.111,-.004],[.123,-.013],[.135,.005],[.147,-.009],[.159,-.018],[.171,-.002],[.183,-.013],[.195,.006],[.207,-.008],[.219,-.016],[.231,-.001],[.243,-.011],[.255,-.023],[.267,-.004],[.279,-.014],[.291,.003],[.303,-.009],[.315,-.019],[.327,-.005],[.339,-.012],[.351,.004],[.363,-.016],[.375,-.006],[.387,-.021],[.399,-.009],[.411,.001],[.423,-.013],[.435,-.004],[.447,-.018],[.459,-.008],[.469,-.013],[.533,-.014],[.545,-.004],[.557,-.017],[.569,-.007],[.581,.006],[.593,-.012],[.605,-.021],[.617,-.005],[.629,-.013],[.641,.003],[.653,-.009],[.665,-.018],[.677,-.003],[.689,-.011],[.701,.004],[.713,-.014],[.725,-.006],[.737,.007],[.747,-.012]];

const pointSets = [
  points1.concat(points1b), points2.concat(points2b), points3.concat(points3b), points4.concat(points4b),
  points5.concat(points5b), points6.concat(points6b), points7.concat(points7b), points8.concat(points8b)
];
const modelSets = [model1, model2, model3, model4, model5, model6, model7, model8];

// layout
const colLeft = [61, 461];
const panelW = 342;
const rowTop = [15, 193, 369, 544];
const rowBottom = [128, 305, 482, 657];
const captionY = [162, 337, 514, 690];

function fmt(v) {
  const s = String(Math.abs(+(+v).toFixed(5)));
  return v < 0 ? '\u2212' + s : s;
}
function minorTicks(min, max, step, majors) {
  const out = [];
  for (let k = Math.ceil(min / step - 1e-9); k * step <= max + 1e-9; k++) {
    const v = +(k * step).toFixed(6);
    if (v <= min + 1e-9 || v >= max - 1e-9) continue;
    if (majors.some(m => Math.abs(m - v) < 1e-9)) continue;
    out.push(v);
  }
  return out;
}
function mkAxis(gi, pos, range, ticks, len, withLabels, inverse) {
  return {
    type: 'value', gridIndex: gi, position: pos, min: range[0], max: range[1], inverse: !!inverse,
    axisLine: { show: true, onZero: false, lineStyle: { color: '#000', width: 1 } },
    axisTick: { show: true, inside: true, length: len, customValues: ticks, lineStyle: { color: '#000', width: 1 } },
    axisLabel: withLabels ? {
      show: true, customValues: ticks, formatter: fmt, color: '#222',
      fontFamily: 'DejaVu Sans', fontSize: 12, margin: 6
    } : { show: false },
    splitLine: { show: false }, minorTick: { show: false }, minorSplitLine: { show: false }
  };
}

const grids = [], xAxes = [], yAxes = [], series = [], graphics = [];
titles.forEach((t, i) => {
  const col = i % 2, row = Math.floor(i / 2);
  const left = colLeft[col], top = rowTop[row], h = rowBottom[row] - top;
  grids.push({ left, top, width: panelW, height: h, containLabel: false, outerBoundsMode: 'none' });
  const xMinor = minorTicks(phaseRange[0], phaseRange[1], 0.05, xMajor);
  const yMinor = minorTicks(yRanges[i][0], yRanges[i][1], yMinorStep[i], yMajors[i]);
  const xi = xAxes.length, yi = yAxes.length;
  xAxes.push(mkAxis(i, 'bottom', phaseRange, xMajor, 5, true));
  xAxes.push(mkAxis(i, 'bottom', phaseRange, xMinor, 3, false));
  xAxes.push(mkAxis(i, 'top', phaseRange, xMajor, 5, false));
  xAxes.push(mkAxis(i, 'top', phaseRange, xMinor, 3, false));
  yAxes.push(mkAxis(i, 'left', yRanges[i], yMajors[i], 5, true, true));
  yAxes.push(mkAxis(i, 'left', yRanges[i], yMinor, 2.5, false, true));
  yAxes.push(mkAxis(i, 'right', yRanges[i], yMajors[i], 5, false, true));
  yAxes.push(mkAxis(i, 'right', yRanges[i], yMinor, 2.5, false, true));
  series.push({
    type: 'scatter', xAxisIndex: xi, yAxisIndex: yi, data: pointSets[i],
    symbol: 'rect', symbolSize: 1.8, itemStyle: { color: '#111', opacity: 0.7 },
    silent: true, z: 2
  });
  series.push({
    type: 'line', xAxisIndex: xi, yAxisIndex: yi, data: modelSets[i],
    symbol: 'none', showSymbol: false, lineStyle: { color: '#2f3cff', width: 1.4 },
    silent: true, z: 3
  });
  graphics.push({
    type: 'text', x: left + panelW / 2 - 3, y: captionY[row],
    style: {
      text: t, font: '13px "DejaVu Sans Mono"', fill: '#222',
      align: 'center', verticalAlign: 'middle', textAlign: 'center', textVerticalAlign: 'middle'
    }
  });
});

const chart = echarts.init(document.getElementById('chart'), null, { renderer: 'canvas' });
chart.setOption({
  animation: false,
  backgroundColor: '#fff',
  grid: grids,
  xAxis: xAxes,
  yAxis: yAxes,
  series: series,
  graphic: graphics
});
</script>
</body>
</html>
